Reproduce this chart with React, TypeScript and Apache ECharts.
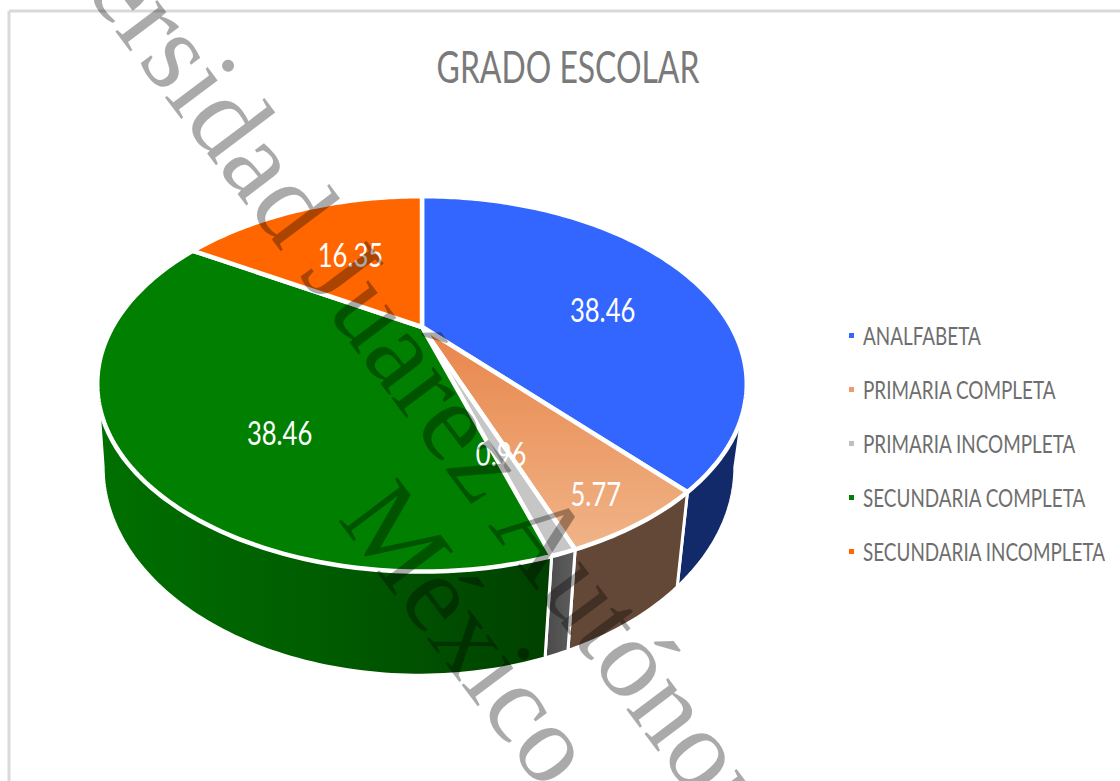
import React, { useEffect, useRef } from "react";
import * as echarts from "echarts";

const categories = ["ANALFABETA", "PRIMARIA COMPLETA", "PRIMARIA INCOMPLETA", "SECUNDARIA COMPLETA", "SECUNDARIA INCOMPLETA"];
const values = [38.46, 5.77, 0.96, 38.46, 16.35];
const valueLabels = ["38.46", "5.77", "0.96", "38.46", "16.35"];
const titleText = "GRADO ESCOLAR";

const FONT = 'Lato, "Liberation Sans", sans-serif';
const legendColors = ["#3366FF", "#EE9C6C", "#BFBFBF", "#007F00", "#FF6600"];
const topFills = [
  "#3366FF",
  new echarts.graphic.LinearGradient(0, 0, 0, 1, [
    { offset: 0, color: "#E8854A" },
    { offset: 1, color: "#F0B488" },
  ]),
  "#C6C6C6",
  "#007F00",
  "#FF6600",
];
const sideFills = [
  "#132A6A",
  "#634837",
  new echarts.graphic.LinearGradient(0, 0, 1, 0, [
    { offset: 0, color: "#4A4A4A" },
    { offset: 1, color: "#5E5E5E" },
  ]),
  new echarts.graphic.LinearGradient(0, 0, 1, 0, [
    { offset: 0, color: "#007000" },
    { offset: 0.5, color: "#005C00" },
    { offset: 1, color: "#004000" },
  ]),
  "#004000",
];
// label placement: radial fraction in the pie plane and a vertical nudge in pixels
const labelRadial = [0.669, 0.847, 0.64, 0.527, 0.537];
const labelNudge = [20, 8, 0, 44, -3];

// perspective projection of the pie disc
const K = 0.303;
const TOP = { cx: 422, y0: 327, a: 309.5, b: 170.5 };
const BOTTOM = { cx: 419, y0: 404, a: 301, b: 189 };

const total = values.reduce((s, v) => s + v, 0);
const startOf = (i: number) => (values.slice(0, i).reduce((s, v) => s + v, 0) / total) * 360;

function project(plane: typeof TOP, deg: number, r = 1) {
  const t = (deg * Math.PI) / 180;
  const u = r * Math.sin(t);
  const v = r * Math.cos(t);
  const w = 1 + K * v;
  return [plane.cx + (plane.a * u) / w, plane.y0 - (plane.b * v) / w];
}
function arc(plane: typeof TOP, from: number, to: number) {
  const n = Math.max(2, Math.ceil(Math.abs(to - from)));
  const out: number[][] = [];
  for (let i = 0; i <= n; i++) out.push(project(plane, from + ((to - from) * i) / n));
  return out;
}
const tangent = (Math.acos(-K) * 180) / Math.PI;

function renderSlice(index: number) {
  return (params: any, api: any) => {
    const value = api.value(0);
    const from = startOf(index);
    const to = from + (value / total) * 360;
    const children: any[] = [];
    const sFrom = Math.max(from, tangent);
    const sTo = Math.min(to, 360 - tangent);
    if (sTo > sFrom) {
      children.push({
        type: "polygon",
        z2: 0,
        shape: { points: [...arc(TOP, sFrom, sTo), ...arc(BOTTOM, sTo, sFrom)] },
        style: { fill: sideFills[index], stroke: "#fff", lineWidth: 3 },
      });
    }
    children.push({
      type: "polygon",
      z2: 1,
      shape: { points: [project(TOP, 0, 0), ...arc(TOP, from, to)] },
      style: { fill: topFills[index], stroke: "#fff", lineWidth: 4.5, lineJoin: "round" },
    });
    const mid = (from + to) / 2;
    const p = project(TOP, mid, labelRadial[index]);
    children.push({
      type: "text",
      z2: 5,
      x: p[0],
      y: p[1] + labelNudge[index],
      scaleX: 0.8,
      style: {
        text: valueLabels[index],
        fill: "#fff",
        font: `32px ${FONT}`,
        align: "center",
        verticalAlign: "middle",
      },
    });
    return { type: "group", children };
  };
}

const legendRows = [335, 389, 443, 497, 551];

export default function App() {
  const ref = useRef<HTMLDivElement>(null);
  useEffect(() => {
    const chart = echarts.init(ref.current!, undefined, { renderer: "svg" });
    chart.setOption({
      animation: false,
      backgroundColor: "#fff",
      series: categories.map((name, i) => ({
        type: "custom",
        name,
        coordinateSystem: "none",
        itemStyle: { color: legendColors[i] },
        data: [[values[i]]],
        renderItem: renderSlice(i),
      })),
      graphic: [
        { type: "line", z: -1, shape: { x1: 9, y1: 11, x2: 1120, y2: 11 }, style: { stroke: "#D9D9D9", lineWidth: 3 } },
        { type: "line", z: -1, shape: { x1: 9, y1: 11, x2: 9, y2: 781 }, style: { stroke: "#D9D9D9", lineWidth: 3 } },
        {
          type: "text",
          z: 50,
          x: 568,
          y: 66,
          scaleX: 0.725,
          style: { text: titleText, fill: "#7A7A7A", font: `44px ${FONT}`, align: "center", verticalAlign: "middle" },
        },
        ...categories.flatMap((name, i) => [
          { type: "rect", z: 50, shape: { x: 849, y: legendRows[i] - 2, width: 5, height: 5 }, style: { fill: legendColors[i] } },
          {
            type: "text",
            z: 50,
            x: 863,
            y: legendRows[i],
            scaleX: 0.756,
            style: { text: name, fill: "#6E6E6E", font: `25px ${FONT}`, align: "left", verticalAlign: "middle" },
          },
        ]),
        {
          type: "text",
          z: 100,
          x: -23,
          y: -216,
          rotation: (-53 * Math.PI) / 180,
          style: { text: "Universidad Juárez Autónoma", fill: "#000", opacity: 0.333, font: '114px "Liberation Serif", serif', align: "left", verticalAlign: "middle" },
        },
        {
          type: "text",
          z: 100,
          x: 367,
          y: 496,
          rotation: (-53 * Math.PI) / 180,
          style: { text: "México", fill: "#000", opacity: 0.333, font: '112px "Liberation Serif", serif', align: "left", verticalAlign: "middle" },
        },
      ],
    });
    return () => chart.dispose();
  }, []);
  return <div ref={ref} style={{ position: "fixed", left: 0, top: 0, width: 1120, height: 781 }} />;
}
